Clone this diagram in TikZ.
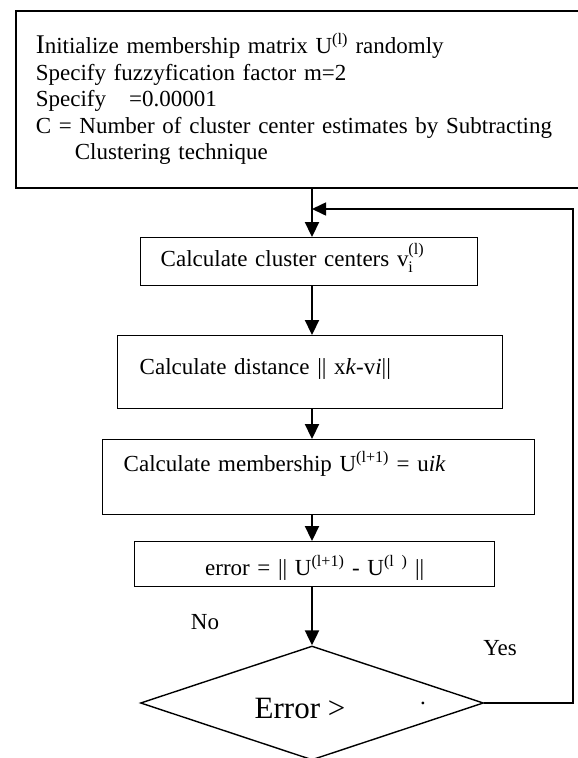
\documentclass[tikz,border=0pt]{standalone}
\usepackage{amsmath}
\usepackage{fontspec}
\setmainfont{Liberation Serif}
\usetikzlibrary{arrows.meta,calc,shapes.geometric}

\begin{document}
\begin{tikzpicture}[x=1pt, y=-1pt, line cap=round,
    every node/.style={font=\fontsize{23}{26.5}\selectfont},
    stepbox/.style={draw, line width=1.4pt, anchor=north west, inner ysep=0pt, align=left},
    flow/.style={line width=2.2pt, -{Triangle[length=15pt,width=14pt]}}]
  \useasboundingbox (0,0) rectangle (578,758);
  \coordinate (spine) at (312,0);
  \coordinate (ret) at (573,209);

  % start block
  \node[stepbox, line width=1.6pt, text width=540pt, inner xsep=20pt, minimum height=177pt] (init) at (15,10)
    {{\fontsize{27}{26.5}\selectfont I}nitialize membership matrix U\textsuperscript{(l)} randomly\\
     Specify fuzzyfication factor m=2\\
     Specify \ \ =0.00001\\
     C = Number of cluster center estimates by Subtracting\\
     \hspace*{1.7em}Clustering technique};

  % loop body
  \node[stepbox, text width=297pt, inner xsep=20pt, text height=29pt, text depth=19pt] (centers) at (140,237)
    {Calculate cluster centers v$_{\textrm{i}}^{\textrm{(l)}}$};
  \node[stepbox, text width=341pt, inner xsep=22pt, text height=39pt, text depth=34pt] (dist) at (117,335)
    {Calculate distance || x\textit{k}-v\textit{i}||};
  \node[stepbox, text width=390pt, inner xsep=21pt, text height=32pt, text depth=43pt] (member) at (102,439)
    {Calculate membership U\textsuperscript{(l+1)} = u\textit{ik}};
  \node[stepbox, align=center, text width=340pt, inner xsep=10pt, text height=34pt, text depth=11pt] (err) at (134,541)
    {error = || U\textsuperscript{(l+1)} - U\textsuperscript{(l )} ||};
  \node[draw, diamond, line width=1.4pt, minimum width=343pt, minimum height=114pt, inner sep=0pt] (test) at (312,703) {};
  \node[font=\fontsize{31}{31}\selectfont, anchor=base] (testtxt) at (300,718) {Error >};
  \node[anchor=base] (dot) at (423,704) {.};
  \node (no) at (205,622) {No};
  \node (yes) at (500,648) {Yes};

  \draw[flow] (init.south -| spine) -- (centers.north -| spine);
  \foreach \a/\b in {centers/dist,dist/member,member/err,err/test}
    \draw[flow] (\a.south -| spine) -- (\b.north -| spine);
  \draw[line width=1.6pt, -{Triangle[length=14pt,width=13pt]}] (test.east) -| (ret) -- (ret -| spine);
\end{tikzpicture}
\end{document}
